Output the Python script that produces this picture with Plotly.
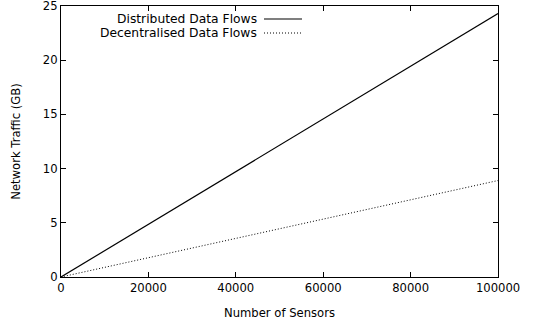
import plotly.graph_objects as go

sensors = [0, 100000]
distributed_gb = [0, 24.3]
decentralised_gb = [0, 8.9]
series_names = ["Distributed Data Flows", "Decentralised Data Flows"]
x_ticks = [0, 20000, 40000, 60000, 80000, 100000]
y_ticks = [0, 5, 10, 15, 20, 25]

FONT = dict(family="DejaVu Sans", size=11.6, color="black")
LEG_FONT = dict(family="DejaVu Sans", size=12.3, color="black")

fig = go.Figure()
fig.add_trace(go.Scatter(x=sensors, y=distributed_gb, mode="lines", name=series_names[0],
                         line=dict(color="black", width=1.2), showlegend=False))
fig.add_trace(go.Scatter(x=sensors, y=decentralised_gb, mode="lines", name=series_names[1],
                         line=dict(color="black", width=1, dash="1px,2px"), showlegend=False))

axis_common = dict(showline=True, linecolor="black", linewidth=1.2, mirror="ticks",
                   ticks="inside", ticklen=5, tickcolor="black", tickwidth=1,
                   showgrid=False, zeroline=False, tickfont=FONT, automargin=False,
                   ticklabeloverflow="allow")

ML, MR, MT, MB = 61, 57, 6, 52
fig.update_layout(
    width=555, height=329,
    margin=dict(l=ML, r=MR, t=MT, b=MB),
    paper_bgcolor="white", plot_bgcolor="white",
    font=FONT,
    xaxis=dict(range=[0, 100000], tickvals=x_ticks, ticktext=[str(v) for v in x_ticks],
               title=dict(text="Number of Sensors", font=FONT, standoff=14), **axis_common),
    yaxis=dict(range=[0, 25], tickvals=y_ticks,
               title=dict(text="Network Traffic (GB)", font=FONT, standoff=19), **axis_common),
)

# gnuplot-style legend: text right-aligned, sample to the right
rows = [(series_names[0], dict(color="black", width=1.2)),
        (series_names[1], dict(color="black", width=1, dash="1px,2px"))]
W, H = 555, 329
PW, PH = W - ML - MR, H - MT - MB
for i, (name, ln) in enumerate(rows):
    ypx = 19 + i * 14
    yp = 1 - (ypx - MT) / PH
    fig.add_annotation(xref="paper", yref="paper", x=(257 - ML) / PW, y=yp,
                       text=name, showarrow=False, xanchor="right", yanchor="middle", font=LEG_FONT,
                       xshift=2)
    fig.add_shape(type="line", xref="paper", yref="paper",
                  x0=(264 - ML) / PW, x1=(302 - ML) / PW, y0=yp, y1=yp, line=ln)

fig.write_html("out.html", config={"displayModeBar": False},
               post_script="document.body.style.margin='0';")
